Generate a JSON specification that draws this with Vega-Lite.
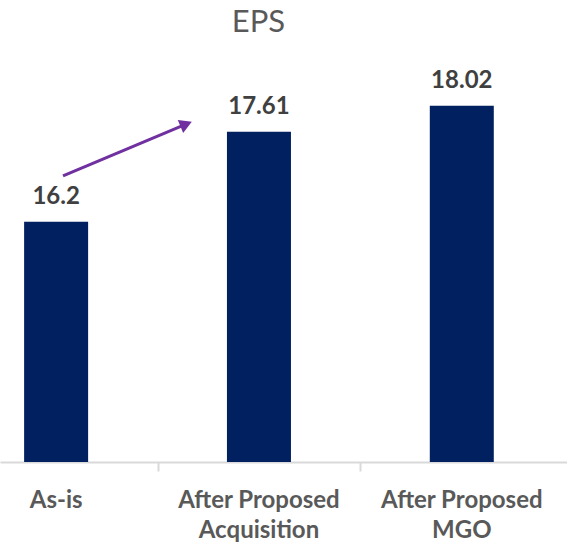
{
  "$schema": "https://vega.github.io/schema/vega-lite/v6.json",
  "width": 567,
  "height": 406,
  "autosize": {"type": "none"},
  "padding": {"left": 0, "right": 0, "top": 56, "bottom": 80},
  "background": "white",
  "config": {"view": {"stroke": null}, "font": "Lato"},
  "title": {"text": "EPS", "fontSize": 31, "font": "Lato", "fontWeight": "normal", "color": "#595959", "anchor": "middle", "frame": "group", "dx": -25, "offset": 17},
  "datasets": {
    "eps": [
      {"idx": 0, "scenario": "As-is", "eps": 16.2},
      {"idx": 1, "scenario": "After Proposed\nAcquisition", "eps": 17.61},
      {"idx": 2, "scenario": "After Proposed\nMGO", "eps": 18.02}
    ],
    "arrow": [
      {"x_from": 0.034, "eps_from": 16.92, "x_to": 0.641, "eps_to": 17.73}
    ]
  },
  "layer": [
    {
      "data": {"name": "eps"},
      "mark": {"type": "bar", "size": 64, "color": "#002060"},
      "encoding": {
        "x": {"field": "idx", "type": "quantitative",
              "scale": {"domain": [-0.252, 2.494], "nice": false, "zero": false},
              "axis": {"title": null, "values": [0.5, 1.5], "labels": false, "grid": false,
                       "tickSize": 9, "tickWidth": 2, "tickColor": "#D9D9D9",
                       "domainColor": "#D9D9D9", "domainWidth": 2}},
        "y": {"field": "eps", "type": "quantitative",
              "scale": {"domain": [12.43, 18.8], "nice": false, "zero": false},
              "axis": null},
        "y2": {"datum": 12.43}
      }
    },
    {
      "data": {"name": "eps"},
      "mark": {"type": "text", "fontSize": 24, "fontWeight": "bold", "color": "#404040", "baseline": "alphabetic", "dy": -18},
      "encoding": {
        "x": {"field": "idx", "type": "quantitative"},
        "y": {"field": "eps", "type": "quantitative"},
        "text": {"field": "eps", "type": "quantitative", "format": ".4~f"}
      }
    },
    {
      "data": {"name": "eps"},
      "mark": {"type": "text", "fontSize": 24, "fontWeight": "bold", "color": "#595959", "baseline": "alphabetic", "dy": 46, "lineBreak": "\n", "lineHeight": 30},
      "encoding": {
        "x": {"field": "idx", "type": "quantitative"},
        "y": {"datum": 12.43, "type": "quantitative"},
        "text": {"field": "scenario", "type": "nominal"}
      }
    },
    {
      "data": {"name": "arrow"},
      "mark": {"type": "rule", "color": "#7030A0", "strokeWidth": 3},
      "encoding": {
        "x": {"field": "x_from", "type": "quantitative"},
        "y": {"field": "eps_from", "type": "quantitative"},
        "x2": {"field": "x_to"},
        "y2": {"field": "eps_to"}
      }
    },
    {
      "data": {"name": "arrow"},
      "mark": {"type": "point", "shape": "triangle-right", "size": 200, "angle": -22.5, "filled": true, "color": "#7030A0", "opacity": 1},
      "encoding": {
        "x": {"field": "x_to", "type": "quantitative"},
        "y": {"field": "eps_to", "type": "quantitative"}
      }
    }
  ]
}
